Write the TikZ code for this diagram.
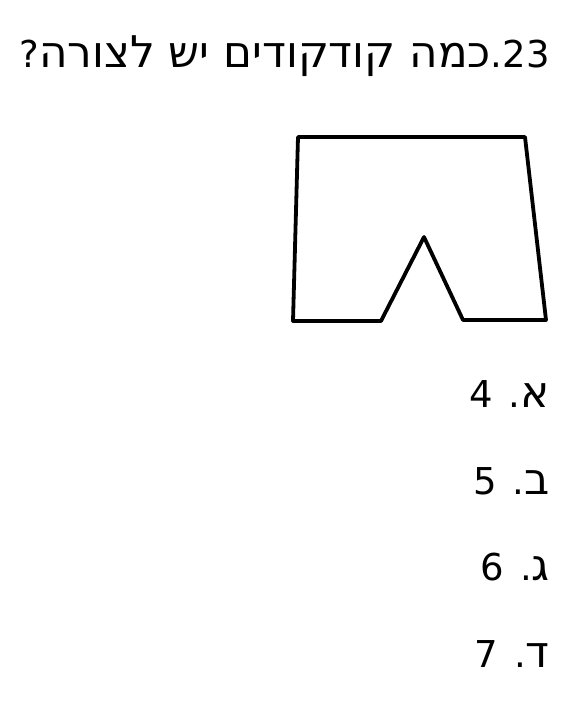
\documentclass[tikz,border=0pt]{standalone}
\usepackage{fontspec}
\setmainfont{DejaVu Sans}
\newfontfamily\hebfont[Script=Hebrew,Scale=1.18]{DejaVu Sans}
\TeXXeTstate=1
\usetikzlibrary{positioning}
\newcommand{\heb}[1]{{\hebfont #1}}
\tikzstyle{question} = [inner sep=0pt, anchor=base east, font=\fontsize{37}{44}\selectfont]
\tikzstyle{answer} = [inner sep=0pt, anchor=base east, font=\fontsize{37}{44}\selectfont]
\tikzstyle{outline} = [line width=3.8pt, line join=round, line cap=round, draw=black]

\begin{document}
\begin{tikzpicture}[x=1pt,y=-1pt]
\useasboundingbox (0,0) rectangle (577,710);
% Question
\node[question] (q) at (550,67) {\beginR\beginL 23\endL.\heb{כמה קודקודים יש לצורה}?\endR};

% Shape
\coordinate (tl) at (298,137);
\coordinate (tr) at (525,137);
\coordinate (br) at (546,320);
\coordinate (ir) at (463,320);
\coordinate (apex) at (424,237);
\coordinate (il) at (381,321);
\coordinate (bl) at (293,321);
\draw[outline] (tl) -- (tr) -- (br) -- (ir) -- (apex) -- (il) -- (bl) -- cycle;

% Answers
\node[answer] (a1) at (550,407) {\beginR\heb{א}. \beginL 4\endL\endR};
\node[answer] (a2) at (550,494) {\beginR\heb{ב}. \beginL 5\endL\endR};
\node[answer] (a3) at (550,580) {\beginR\heb{ג}. \beginL 6\endL\endR};
\node[answer] (a4) at (550,667) {\beginR\heb{ד}. \beginL 7\endL\endR};
\end{tikzpicture}
\end{document}
